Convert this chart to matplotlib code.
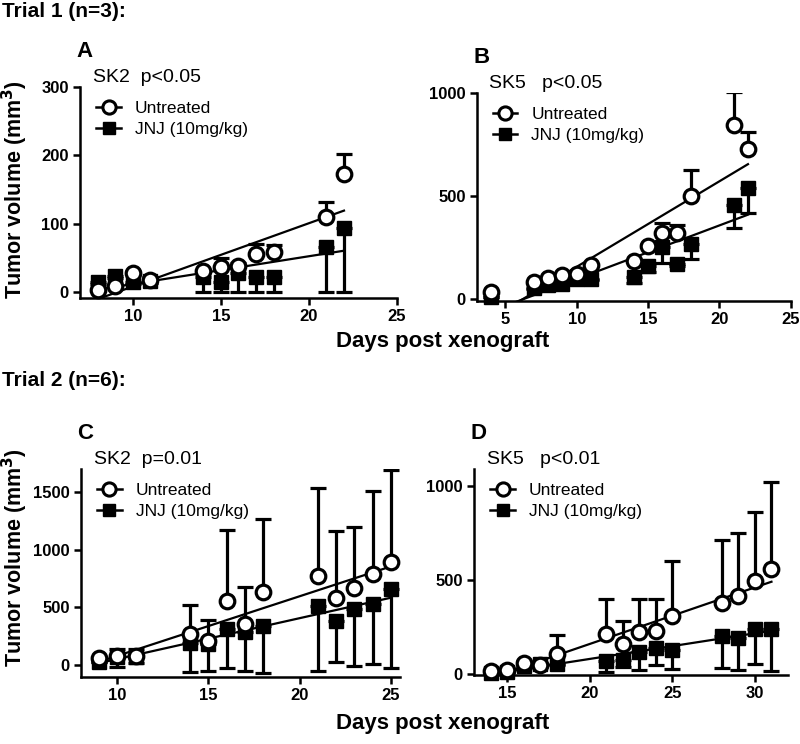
import matplotlib as mpl
mpl.use('Agg')
import matplotlib.pyplot as plt
from matplotlib.lines import Line2D
import numpy as np

plt.rcParams['font.family'] = ['Liberation Sans', 'DejaVu Sans']

#panel A: SK2, trial 1
a_days_u = [8, 9, 10, 11, 14, 15, 16, 17, 18, 21, 22]
a_untr = [3, 8, 28, 18, 30, 37, 38, 56, 58, 110, 172]
a_untr_err = [1, 1, 3, 3, 2, 12, 4, 14, 11, 22, 30]
a_days_j = [8, 9, 10, 11, 14, 15, 16, 17, 18, 21, 22]
a_jnj = [14, 23, 15, 16, 21, 14, 27, 22, 21, 66, 94]
a_jnj_err = [2, 3, 3, 3, 21, 14, 27, 22, 21, 66, 94]

#panel B: SK5, trial 1
b_days_u = [4, 7, 8, 9, 10, 11, 14, 15, 16, 17, 18, 21, 22]
b_untr = [35, 84, 104, 115, 122, 164, 182, 258, 319, 319, 498, 846, 728]
b_untr_err = [5, 5, 5, 5, 8, 8, 8, 10, 49, 39, 126, 157, 85]
b_days_j = [4, 7, 8, 9, 10, 11, 14, 15, 16, 17, 18, 21, 22]
b_jnj = [11, 52, 68, 71, 96, 96, 109, 162, 254, 169, 267, 454, 541]
b_jnj_err = [3, 5, 5, 5, 5, 5, 33, 29, 81, 10, 74, 110, 124]

#panel C: SK2, trial 2
c_days_u = [9, 10, 11, 14, 15, 16, 17, 18, 21, 22, 23, 24, 25]
c_untr = [58, 78, 80, 270, 204, 552, 357, 631, 776, 581, 669, 791, 892]
c_untr_err = [5, 64, 55, 253, 188, 616, 320, 633, 759, 582, 532, 720, 803]
c_days_j = [9, 10, 11, 14, 15, 16, 17, 18, 21, 22, 23, 24, 25]
c_jnj = [29, 73, 73, 189, 180, 311, 282, 334, 509, 378, 488, 529, 660]
c_jnj_err = [5, 88, 53, 247, 229, 340, 334, 407, 558, 349, 497, 520, 689]

#panel D: SK5, trial 2
d_days_u = [14, 15, 16, 17, 18, 21, 22, 23, 24, 25, 28, 29, 30, 31]
d_untr = [18, 26, 62, 50, 111, 217, 159, 224, 229, 312, 379, 414, 494, 559]
d_untr_err = [3, 3, 8, 10, 97, 183, 123, 176, 171, 291, 332, 336, 367, 464]
d_days_j = [14, 15, 16, 17, 18, 21, 22, 23, 24, 25, 28, 29, 30, 31]
d_jnj = [10, 15, 44, 53, 58, 71, 79, 120, 141, 129, 203, 194, 243, 242]
d_jnj_err = [3, 3, 10, 15, 10, 57, 40, 94, 93, 99, 168, 171, 185, 221]

panels = [
    dict(letter='A', title='SK2  p<0.05', rect=[0.100, 0.5995, 0.396, 0.2836],
         xlim=(7, 25), ylim=(-9, 300), xticks=[10, 15, 20, 25], yticks=[0, 100, 200, 300],
         u=(a_days_u, a_untr, a_untr_err), j=(a_days_j, a_jnj, a_jnj_err)),
    dict(letter='B', title='SK5   p<0.05', rect=[0.596, 0.5954, 0.3925, 0.2796],
         xlim=(3, 25), ylim=(-10, 1000), xticks=[5, 10, 15, 20, 25], yticks=[0, 500, 1000],
         u=(b_days_u, b_untr, b_untr_err), j=(b_days_j, b_jnj, b_jnj_err)),
    dict(letter='C', title='SK2  p=0.01', rect=[0.101, 0.090, 0.399, 0.2796],
         xlim=(8, 25.5), ylim=(-105, 1700), xticks=[10, 15, 20, 25], yticks=[0, 500, 1000, 1500],
         u=(c_days_u, c_untr, c_untr_err), j=(c_days_j, c_jnj, c_jnj_err)),
    dict(letter='D', title='SK5   p<0.01', rect=[0.5925, 0.0927, 0.3925, 0.277],
         xlim=(13, 32), ylim=(-3, 1090), xticks=[15, 20, 25, 30], yticks=[0, 500, 1000],
         u=(d_days_u, d_untr, d_untr_err), j=(d_days_j, d_jnj, d_jnj_err)),
]

fig = plt.figure(figsize=(8, 7.44), dpi=100)

for p in panels:
    ax = fig.add_axes(p['rect'])
    xu, yu, eu = [np.array(v, dtype=float) for v in p['u']]
    xj, yj, ej = [np.array(v, dtype=float) for v in p['j']]

    #linear regression lines
    for xs, ys in [(xu, yu), (xj, yj)]:
        k, b = np.polyfit(xs, ys, 1)
        fx = np.array([xs.min(), xs.max()])
        ax.plot(fx, k*fx + b, color='black', lw=1.6, zorder=2)

    #untreated: upper error only, JNJ: lower error only
    ax.errorbar(xj, yj, yerr=[ej, np.zeros_like(ej)], fmt='none', ecolor='black',
                elinewidth=2.3, capsize=5.5, capthick=2.3, zorder=3)
    ax.errorbar(xu, yu, yerr=[np.zeros_like(eu), eu], fmt='none', ecolor='black',
                elinewidth=2.3, capsize=5.5, capthick=2.3, zorder=3)
    ax.plot(xj, yj, 's', ms=10, color='black', zorder=4, clip_on=False)
    ax.plot(xu, yu, 'o', ms=10.5, mfc='white', mec='black', mew=2.3, zorder=5, clip_on=False)

    ax.set_xlim(*p['xlim'])
    ax.set_ylim(*p['ylim'])
    ax.set_xticks(p['xticks'])
    ax.set_yticks(p['yticks'])
    for s in ['top', 'right']:
        ax.spines[s].set_visible(False)
    for s in ['left', 'bottom']:
        ax.spines[s].set_linewidth(1.8)
    ax.tick_params(width=1.8, length=5, labelsize=12, pad=3)
    for lab in ax.get_xticklabels() + ax.get_yticklabels():
        lab.set_fontweight('bold')

    ax.text(-0.01, 1.17, p['letter'], transform=ax.transAxes, fontsize=16,
            fontweight='bold', va='center', ha='left')
    ax.text(0.04, 1.045, p['title'], transform=ax.transAxes, fontsize=14,
            va='center', ha='left')

    handles = [Line2D([], [], color='black', lw=1.8, marker='o', ms=9.5, mfc='white', mew=2.2),
               Line2D([], [], color='black', lw=1.8, marker='s', ms=9)]
    ax.legend(handles, ['Untreated', 'JNJ (10mg/kg)'], loc='upper left',
              bbox_to_anchor=(0.03, 0.965), frameon=False, fontsize=12.5,
              handlelength=1.4, handletextpad=0.8, labelspacing=0.3,
              borderaxespad=0)

fig.text(0.003, 0.984, 'Trial 1 (n=3):', fontsize=15, fontweight='bold', va='center')
fig.text(0.003, 0.488, 'Trial 2 (n=6):', fontsize=15, fontweight='bold', va='center')
fig.text(0.553, 0.541, 'Days post xenograft', fontsize=16, fontweight='bold',
         ha='center', va='center')
fig.text(0.553, 0.027, 'Days post xenograft', fontsize=16, fontweight='bold',
         ha='center', va='center')
fig.text(0.019, 0.745, 'Tumor volume (mm$^\\mathbf{3}$)', fontsize=15.5, fontweight='bold',
         rotation=90, ha='center', va='center')
fig.text(0.019, 0.25, 'Tumor volume (mm$^\\mathbf{3}$)', fontsize=15.5, fontweight='bold',
         rotation=90, ha='center', va='center')

fig.savefig('out.png', dpi=100)
